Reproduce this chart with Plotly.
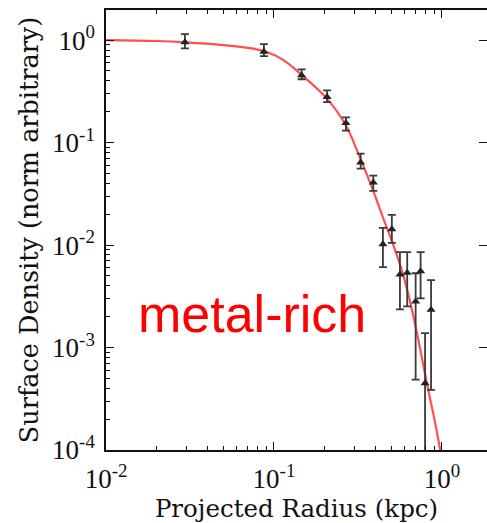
import plotly.graph_objects as go

# Projected radius (kpc) and normalised surface density of the metal-rich stars
radius = [0.0295, 0.0871, 0.146, 0.207, 0.268, 0.328, 0.390,
          0.445, 0.503, 0.562, 0.621, 0.697, 0.746, 0.793, 0.861]
density = [0.955, 0.768, 0.454, 0.278, 0.155, 0.0641, 0.0408,
           0.0102, 0.01425, 0.00516, 0.00536, 0.00282, 0.00556, 0.000447, 0.00234]
density_hi = [1.145, 0.914, 0.519, 0.323, 0.176, 0.078, 0.0475,
              0.0147, 0.0197, 0.00854, 0.00854, 0.00531, 0.00854, 0.00138, 0.00454]
density_lo = [0.829, 0.697, 0.415, 0.248, 0.131, 0.0556, 0.0338,
              0.00608, 0.0105, 0.00236, 0.00252, 0.000486, 0.00302, 0.000001, 0.000387]

# Fitted profile
fit_radius = [0.01, 0.02, 0.03, 0.05, 0.072, 0.09, 0.115, 0.147, 0.206, 0.268, 0.334,
              0.388, 0.446, 0.511, 0.586, 0.672, 0.826, 0.908, 0.973, 1.04]
fit_density = [1.0, 0.98, 0.95, 0.893, 0.835, 0.77, 0.632, 0.454, 0.270, 0.147, 0.0637,
               0.0346, 0.0184, 0.0102, 0.0052, 0.00211, 0.000396, 0.000188, 0.000102,
               0.000049]

# Axis ticks
x_major = [0.01, 0.1, 1]
x_major_text = ["10<sup>-2</sup>", "10<sup>-1</sup>", "10<sup>0</sup>"]
y_major = [1e-4, 1e-3, 1e-2, 1e-1, 1]
y_major_text = ["10<sup>-4</sup>", "10<sup>-3</sup>", "10<sup>-2</sup>",
                "10<sup>-1</sup>", "10<sup>0</sup>"]
x_minor = [m * d for d in (0.01, 0.1, 1) for m in range(2, 10)]
y_minor = [m * d for d in (1e-4, 1e-3, 1e-2, 1e-1, 1) for m in range(2, 10)]

err_plus = [h - v for h, v in zip(density_hi, density)]
err_minus = [v - l for v, l in zip(density, density_lo)]

tick_font = "Liberation Serif, Times New Roman, serif"
title_font = "DejaVu Serif, serif"

fig = go.Figure()

fig.add_trace(go.Scatter(
    x=fit_radius, y=fit_density, mode="lines",
    line=dict(color="rgba(255,20,20,0.75)", width=2.2, shape="spline", smoothing=1.0),
    hoverinfo="skip", showlegend=False,
))

fig.add_trace(go.Scatter(
    x=radius, y=density, mode="markers",
    marker=dict(symbol="triangle-up", size=8, color="#222222"),
    error_y=dict(type="data", symmetric=False, array=err_plus, arrayminus=err_minus,
                 color="#3a3a3a", thickness=1.8, width=4),
    showlegend=False,
))

# invisible copy on a right-hand axis so the right side carries ticks
fig.add_trace(go.Scatter(
    x=fit_radius, y=fit_density, mode="lines", yaxis="y2",
    line=dict(width=0), opacity=0, hoverinfo="skip", showlegend=False,
))

fig.add_annotation(
    text="metal-rich", xref="paper", yref="paper", x=0.383, y=0.309,
    xanchor="center", yanchor="middle", showarrow=False,
    font=dict(family="Liberation Sans, Arial, sans-serif", size=52, color="#ff0000"),
)

fig.update_layout(
    width=487, height=523,
    margin=dict(l=106, r=0, t=10, b=73),
    paper_bgcolor="white", plot_bgcolor="white",
    font=dict(family=tick_font, color="#111111"),
    xaxis=dict(
        type="log", range=[-2, 0.268],
        tickmode="array", tickvals=x_major, ticktext=x_major_text,
        ticks="inside", ticklen=8, tickwidth=1.3, tickcolor="#111",
        showline=True, linecolor="#111", linewidth=1.5, mirror="ticks",
        showgrid=False, zeroline=False, ticklabelstandoff=4,
        tickfont=dict(size=27, family=tick_font),
        minor=dict(tickmode="array", tickvals=x_minor, ticks="inside",
                   ticklen=4, tickwidth=1, tickcolor="#111", showgrid=False),
        title=dict(text="Projected Radius (kpc)", font=dict(size=24.5, family=title_font),
                   standoff=1),
    ),
    yaxis=dict(
        type="log", range=[-4, 0.294],
        tickmode="array", tickvals=y_major, ticktext=y_major_text,
        ticks="inside", ticklen=8, tickwidth=1.3, tickcolor="#111",
        showline=True, linecolor="#111", linewidth=1.5, mirror=False,
        showgrid=False, zeroline=False, ticklabelstandoff=4,
        tickfont=dict(size=27, family=tick_font),
        minor=dict(tickmode="array", tickvals=y_minor, ticks="inside",
                   ticklen=4, tickwidth=1, tickcolor="#111", showgrid=False),
        title=dict(text="Surface Density (norm arbitrary)",
                   font=dict(size=25.5, family=title_font), standoff=6),
    ),
    yaxis2=dict(
        type="log", range=[-4, 0.294], overlaying="y", side="right",
        tickmode="array", tickvals=y_major, ticks="inside", ticklen=8,
        tickwidth=1.3, tickcolor="#111", showticklabels=False,
        showline=False, showgrid=False, zeroline=False,
    ),
)

fig.write_html("out.html")
